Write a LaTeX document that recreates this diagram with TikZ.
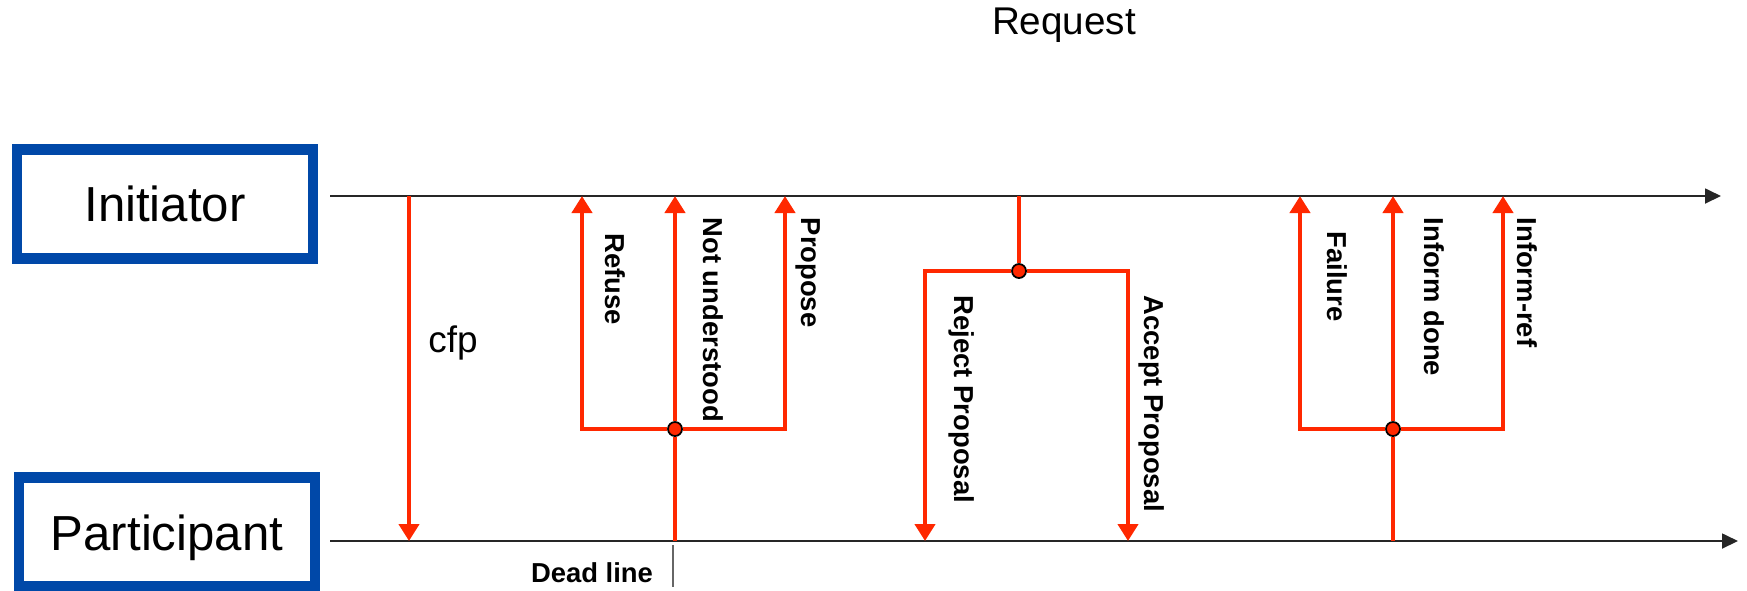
\documentclass[tikz,border=0pt]{standalone}
\usepackage{fontspec}
\setmainfont{Liberation Sans}
\usetikzlibrary{arrows.meta}

\definecolor{msgred}{RGB}{255,40,0}
\definecolor{boxblue}{RGB}{0,72,168}

\tikzset{
    agent/.style={draw=boxblue, line width=3.1pt, minimum width=29.6mm, minimum height=10.9mm, inner sep=0pt, font=\fontsize{14}{16}\selectfont},
    lifeline/.style={draw=black!85, line width=0.5pt, -{Triangle[length=1.6mm,width=1.5mm]}},
    msg/.style={draw=msgred, line width=1.2pt, -{Triangle[length=1.7mm,width=2mm]}},
    wire/.style={draw=msgred, line width=1.2pt},
    junction/.style={circle, fill=msgred, draw=black, line width=0.5pt, inner sep=0pt, minimum size=1.4mm},
    act/.style={rotate=-90, anchor=west, inner sep=0pt, font=\fontsize{7.8}{9}\selectfont\bfseries},
}

\begin{document}
\begin{tikzpicture}[x=0.1mm, y=-0.1mm]
    \useasboundingbox (0,0) rectangle (1747,590);
    \clip (0,0) rectangle (1747,590);

        \def\ytop{196}
        \def\ybot{541}

        \node[agent] (initiator) at (165,204) {Initiator};
        \node[agent] (participant) at (167,532) {\raisebox{-1.8mm}[0pt][0pt]{Participant}};
        \node[font=\fontsize{11}{13}\selectfont] (request) at (1064,25) {Request};

        % lifelines
        \coordinate (iniL) at (330,\ytop);
        \coordinate (iniR) at (1721,\ytop);
        \coordinate (parL) at (330,\ybot);
        \coordinate (parR) at (1738,\ybot);
        \draw[lifeline] (iniL) -- (iniR);
        \draw[lifeline] (parL) -- (parR);

        % cfp
        \coordinate (cfpTop) at (409,\ytop);
        \coordinate (cfpBot) at (409,\ybot);
        \draw[msg] (cfpTop) -- (cfpBot);
        \node[font=\fontsize{10.5}{12}\selectfont] (cfp) at (453,343) {cfp};

        % answers to cfp
        \node[junction] (j1) at (675,429) {};
        \coordinate (j1Bot) at (675,\ybot);
        \draw[wire] (j1Bot) -- (j1);
        \foreach \name/\x in {refuse/582, notund/675, propose/785} {%
            \coordinate (\name) at (\x,\ytop);%
        }
        \draw[msg] (j1) -| (refuse);
        \draw[msg] (j1) -- (notund);
        \draw[msg] (j1) -| (propose);

        \node[act] (lRefuse) at (615,233) {Refuse};
        \node[act] (lNotund) at (713,217) {Not understood};
        \node[act] (lPropose) at (808,217) {Propose};

        % dead line
        \coordinate (dlTop) at (673,545);
        \coordinate (dlBot) at (673,587);
        \draw[black!60, line width=0.6pt] (dlTop) -- (dlBot);
        \node[font=\fontsize{7.8}{9}\selectfont\bfseries, inner sep=0pt] (deadline) at (592,573) {Dead line};

        % reject / accept
        \coordinate (j2Top) at (1019,\ytop);
        \node[junction] (j2) at (1019,271) {};
        \draw[wire] (j2Top) -- (j2);
        \coordinate (reject) at (925,\ybot);
        \coordinate (accept) at (1128,\ybot);
        \draw[msg] (j2) -| (reject);
        \draw[msg] (j2) -| (accept);

        \node[act] (lReject) at (962,295) {Reject Proposal};
        \node[act] (lAccept) at (1152,295) {Accept Proposal};

        % results
        \node[junction] (j3) at (1393,429) {};
        \coordinate (j3Bot) at (1393,\ybot);
        \draw[wire] (j3Bot) -- (j3);
        \foreach \name/\x in {failure/1300, infdone/1393, infref/1503} {%
            \coordinate (\name) at (\x,\ytop);%
        }
        \draw[msg] (j3) -| (failure);
        \draw[msg] (j3) -- (infdone);
        \draw[msg] (j3) -| (infref);

        \node[act] (lFailure) at (1337,231) {Failure};
        \node[act] (lInfdone) at (1434,217) {Inform done};
        \node[act] (lInfref) at (1527,217) {Inform-ref};

\end{tikzpicture}
\end{document}
